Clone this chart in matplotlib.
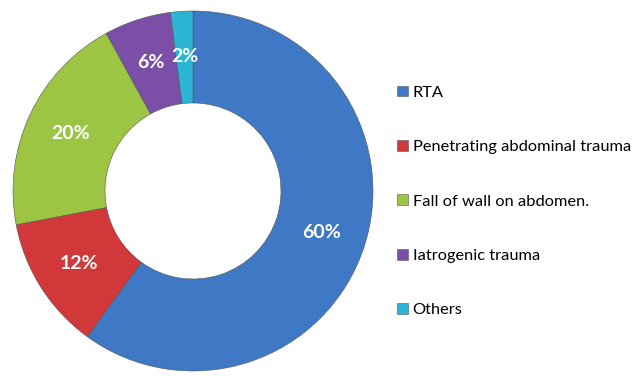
import numpy as np
import matplotlib.pyplot as plt

plt.rcParams['font.family'] = ['Lato', 'DejaVu Sans']

labels = ['RTA', 'Penetrating abdominal trauma', 'Fall of wall on abdomen.',
          'Iatrogenic trauma', 'Others']
values = [60, 12, 20, 6, 2]
colors = ['#3f78c4', '#d2373a', '#9bc543', '#7b4fa8', '#2bb4d4']

fig = plt.figure(figsize=(6.38, 3.76), dpi=100)
ax = fig.add_axes([0, 0, 1, 1])

wedges, texts, autotexts = ax.pie(
    values, colors=colors, startangle=90, counterclock=False,
    center=(193, 185), radius=180,
    autopct='%d%%', pctdistance=0.75,
    wedgeprops=dict(width=92, edgecolor='#555555', linewidth=0.4),
    textprops=dict(color='white', fontsize=14, fontweight='bold'))

ax.set_xlim(0, 638)
ax.set_ylim(0, 376)
ax.set_aspect('equal')
ax.axis('off')

leg = ax.legend(wedges, labels, loc='upper left', bbox_to_anchor=(0.612, 0.79),
                frameon=False, fontsize=11.8, labelspacing=2.45,
                handlelength=0.65, handleheight=0.65, handletextpad=0.3,
                borderaxespad=0)
for h in leg.legend_handles:
    h.set_linewidth(0.4)

fig.savefig('out.png', dpi=100)
